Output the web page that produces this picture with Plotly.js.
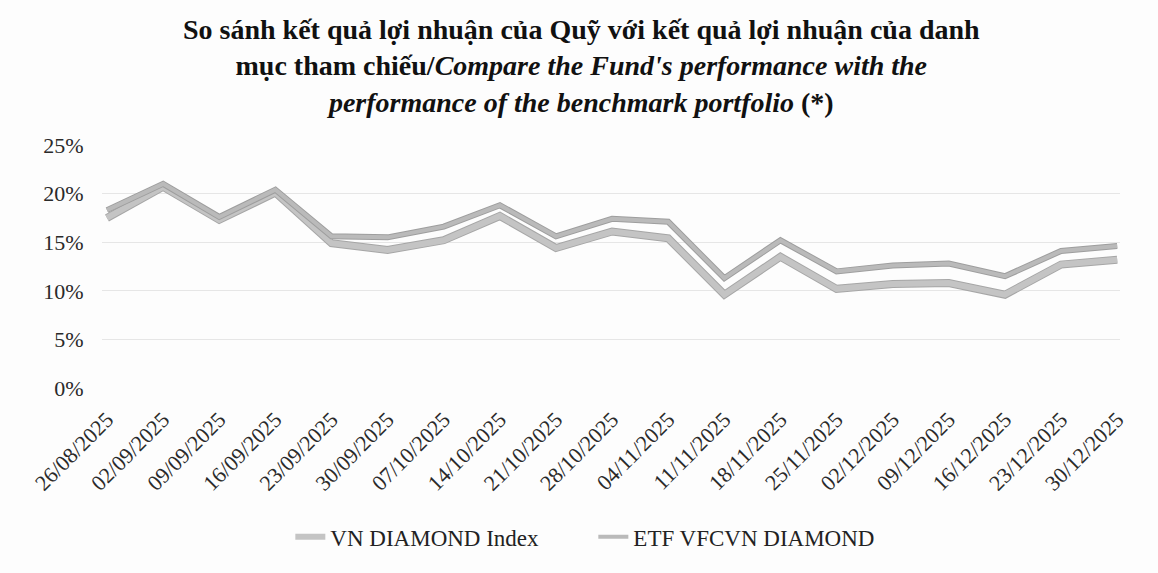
<!DOCTYPE html>
<html>
<head>
<meta charset="utf-8">
<script src="https://cdn.plot.ly/plotly-3.0.1.min.js"></script>
<style>html,body{margin:0;padding:0;background:#fdfdfd;}#chart{width:1158px;height:573px;}</style>
</head>
<body>
<div id="chart"></div>
<script>
var dates = ["26/08/2025","02/09/2025","09/09/2025","16/09/2025","23/09/2025","30/09/2025","07/10/2025","14/10/2025","21/10/2025","28/10/2025","04/11/2025","11/11/2025","18/11/2025","25/11/2025","02/12/2025","09/12/2025","16/12/2025","23/12/2025","30/12/2025"];
var vnDiamondIndex = [0.175,0.207,0.173,0.201,0.149,0.142,0.152,0.177,0.144,0.161,0.154,0.096,0.135,0.102,0.107,0.108,0.096,0.127,0.132];
var etfVfcvnDiamond = [0.183,0.210,0.176,0.204,0.156,0.155,0.166,0.188,0.156,0.174,0.171,0.113,0.152,0.120,0.126,0.128,0.115,0.141,0.146];
var seriesNames = ["VN DIAMOND Index","ETF VFCVN DIAMOND"];

var idx = dates.map(function(d,i){return i;});
var traces = [
  {x: idx, y: vnDiamondIndex, mode:"lines", line:{color:"#a6a6a6", width:8}, showlegend:false, hoverinfo:"skip", legendgroup:"a"},
  {x: idx, y: vnDiamondIndex, mode:"lines", name: seriesNames[0], line:{color:"#c4c4c4", width:6}, legendgroup:"a"},
  {x: idx, y: etfVfcvnDiamond, mode:"lines", line:{color:"#9e9e9e", width:6}, showlegend:false, hoverinfo:"skip", legendgroup:"b"},
  {x: idx, y: etfVfcvnDiamond, mode:"lines", name: seriesNames[1], line:{color:"#bababa", width:4}, legendgroup:"b"}
];

var layout = {
  width:1158, height:573,
  paper_bgcolor:"#fdfdfd", plot_bgcolor:"#fdfdfd",
  margin:{l:102, r:38, t:145, b:185},
  font:{family:"Liberation Serif, Times New Roman, serif", color:"#2a2a2a"},
  title:{
    text:"<b>So sánh kết quả lợi nhuận của Quỹ với kết quả lợi nhuận của danh<br>mục tham chiếu/<i>Compare the Fund's performance with the<br>performance of the benchmark portfolio</i> (*)</b>",
    font:{family:"Liberation Serif, Times New Roman, serif", size:28, color:"#111"},
    x:0.502, xanchor:"center", xref:"container",
    y:0.932, yanchor:"middle", yref:"container"
  },
  xaxis:{
    type:"linear",
    range:[-0.089, 18.05],
    tickmode:"array", tickvals: idx, ticktext: dates,
    tickangle:-45,
    tickfont:{size:22, color:"#2a2a2a"},
    showgrid:false, zeroline:false, showline:false,
    ticks:"outside", ticklen:9, tickcolor:"rgba(0,0,0,0)"
  },
  yaxis:{
    range:[0,0.25],
    dtick:0.05, tickformat:".0%",
    tickfont:{size:22, color:"#2a2a2a"},
    showgrid:true, gridcolor:"#e6e6e6", gridwidth:1,
    zeroline:false, showline:false,
    ticks:"outside", ticklen:13, tickcolor:"rgba(0,0,0,0)"
  },
  legend:{
    orientation:"h", x:0.185, xanchor:"left", y:-0.612, yanchor:"middle",
    font:{size:23, color:"#222"},
    bgcolor:"rgba(0,0,0,0)", entrywidth:258, entrywidthmode:"pixels"
  },
  showlegend:true
};
Plotly.newPlot("chart", traces, layout, {displayModeBar:false, staticPlot:true});
</script>
</body>
</html>
